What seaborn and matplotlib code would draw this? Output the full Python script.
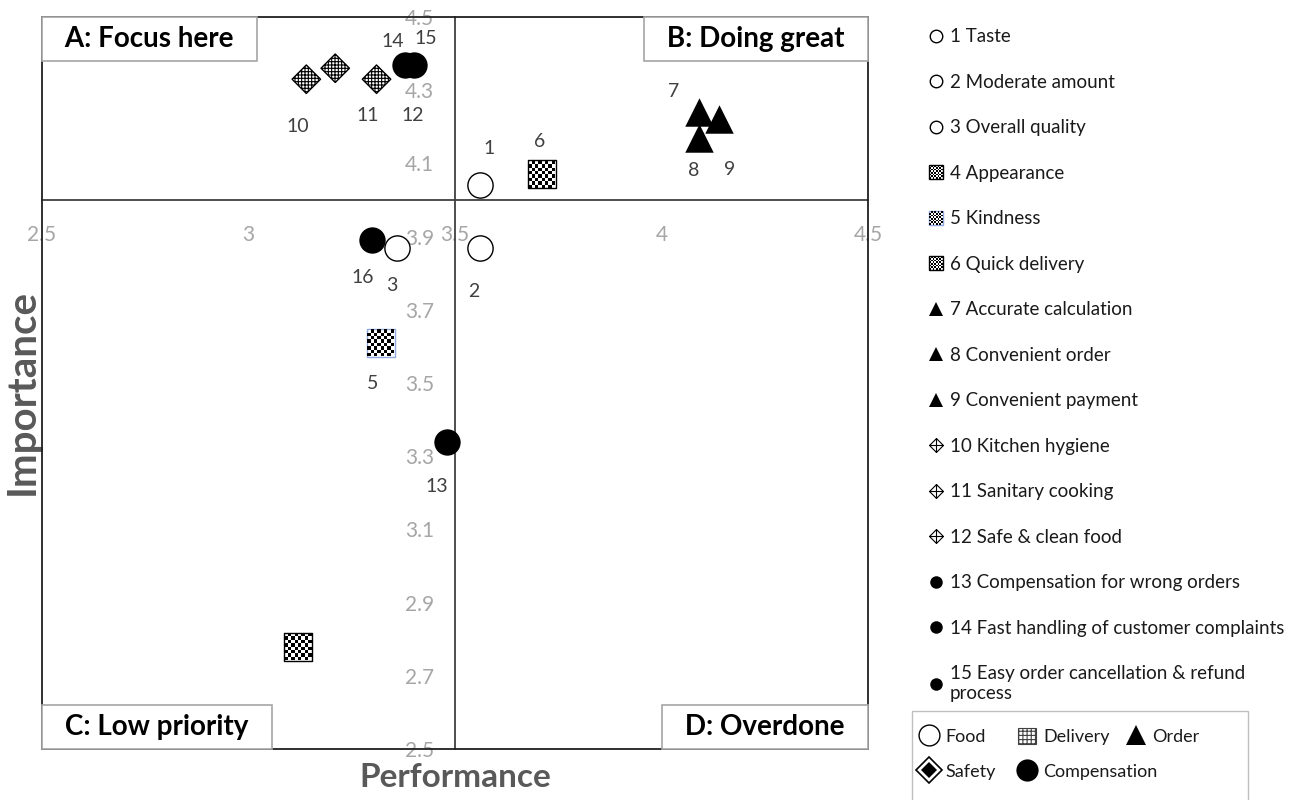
import numpy as np
import seaborn as sns
import matplotlib.pyplot as plt
from matplotlib.path import Path
from matplotlib.lines import Line2D
from matplotlib.patches import Rectangle, Patch
from matplotlib.offsetbox import AnchoredText
from matplotlib.legend_handler import HandlerTuple

# data
ids = list(range(1, 17))
performance = [3.56, 3.56, 3.36, 3.12, 3.32, 3.71, 4.09, 4.09, 4.14,
               3.14, 3.31, 3.21, 3.48, 3.38, 3.40, 3.30]
importance = [4.04, 3.87, 3.87, 2.78, 3.61, 4.07, 4.24, 4.17, 4.22,
              4.33, 4.33, 4.36, 3.34, 4.37, 4.37, 3.89]
group = (['Food'] * 3 + ['Delivery'] * 3 + ['Order'] * 3 +
         ['Safety'] * 3 + ['Compensation'] * 4)
point_labels = ['1', '2', '3', '', '5', '6', '7', '8', '9',
                '10', '11', '12', '13', '14', '15', '16']
item_names = ['Taste', 'Moderate amount', 'Overall quality', 'Appearance',
              'Kindness', 'Quick delivery', 'Accurate calculation',
              'Convenient order', 'Convenient payment', 'Kitchen hygiene',
              'Sanitary cooking', 'Safe & clean food',
              'Compensation for wrong orders',
              'Fast handling of customer complaints',
              'Easy order cancellation & refund\nprocess']
x_ticks = [2.5, 3, 3.5, 4, 4.5]
y_ticks = [2.5, 2.7, 2.9, 3.1, 3.3, 3.5, 3.7, 3.9, 4.1, 4.3, 4.5]
quadrants = ['A: Focus here', 'B: Doing great', 'C: Low priority', 'D: Overdone']

# label offsets in pixels (x right, y up)
label_offsets = [(9, 37), (-6, -44), (-5, -38), (0, 0), (-8, -41), (-2, 33),
                 (-25, 21), (-5, -33), (10, -50), (-9, -47), (-9, -36),
                 (77, -47), (-10, -45), (-13, 23), (12, 26), (-10, -37)]


def checker_path(n=8):
    verts, codes = [], []
    d = 2 / n
    for i in range(n):
        for j in range(n):
            if (i + j) % 2 == 0:
                x0, y0 = -1 + i * d, -1 + j * d
                verts += [(x0, y0), (x0 + d, y0), (x0 + d, y0 + d), (x0, y0 + d), (x0, y0)]
                codes += [Path.MOVETO, Path.LINETO, Path.LINETO, Path.LINETO, Path.CLOSEPOLY]
    return Path(verts, codes)


def cross_diamond():
    verts = [(0, 1), (1, 0), (0, -1), (-1, 0), (0, 1),
             (0, 1), (0, -1), (-1, 0), (1, 0)]
    codes = [Path.MOVETO, Path.LINETO, Path.LINETO, Path.LINETO, Path.CLOSEPOLY,
             Path.MOVETO, Path.LINETO, Path.MOVETO, Path.LINETO]
    return Path(verts, codes)


CHECK = checker_path(8)
CROSS_D = cross_diamond()

sns.set_style('white')
plt.rcParams['font.family'] = ['Lato', 'DejaVu Sans']
plt.rcParams['hatch.linewidth'] = 0.8

fig = plt.figure(figsize=(13.04, 8.0), dpi=100)
ax = fig.add_axes([42 / 1304, 1 - 749 / 800, 826 / 1304, 732 / 800])

x = np.array(performance)
y = np.array(importance)
g = np.array(group)

# crossing lines at (3.5, 4.0)
ax.spines['left'].set_position(('data', 3.5))
ax.spines['bottom'].set_position(('data', 4.0))
for s in ['left', 'bottom']:
    ax.spines[s].set_color('#404040')
    ax.spines[s].set_linewidth(1.3)
ax.spines['top'].set_visible(False)
ax.spines['right'].set_visible(False)
ax.add_patch(Rectangle((0, 0), 1, 1, transform=ax.transAxes, fill=False,
                       edgecolor='#202020', linewidth=1.3, zorder=5, clip_on=False))

# points
m = g == 'Food'
sns.scatterplot(x=x[m], y=y[m], marker='o', s=330, color='white',
                edgecolor='black', linewidth=1.0, ax=ax, zorder=6)
m = g == 'Delivery'
edge_cols = ['black', '#8fa8e0', 'black']
for xi, yi, ec in zip(x[m], y[m], edge_cols):
    sns.scatterplot(x=[xi], y=[yi], marker='s', s=380, color='white',
                    edgecolor=ec, linewidth=1.0, ax=ax, zorder=6)
    sns.scatterplot(x=[xi], y=[yi], marker=CHECK, s=380, color='black',
                    edgecolor='none', linewidth=0, ax=ax, zorder=7)
m = g == 'Order'
sns.scatterplot(x=x[m], y=y[m], marker='^', s=420, color='black',
                edgecolor='black', linewidth=0, ax=ax, zorder=6)
m = g == 'Safety'
sns.scatterplot(x=x[m], y=y[m], marker='D', s=210, color='white',
                edgecolor='black', linewidth=1.0, hatch='+++++', ax=ax, zorder=6)
m = g == 'Compensation'
sns.scatterplot(x=x[m], y=y[m], marker='o', s=360, color='black',
                edgecolor='black', linewidth=0, ax=ax, zorder=6)

for xi, yi, lab, off in zip(x, y, point_labels, label_offsets):
    if lab:
        ax.annotate(lab, (xi, yi), xytext=off, textcoords='offset pixels',
                    ha='center', va='center', fontsize=14, color='#404040', zorder=8)

ax.set_xlim(2.5, 4.5)
ax.set_ylim(2.5, 4.5)
ax.set_xticks(x_ticks)
ax.set_xticklabels([f'{t:g}' for t in x_ticks])
ax.set_yticks(y_ticks)
ax.set_yticklabels([f'{t:.1f}' for t in y_ticks])
ax.tick_params(axis='both', colors='#404040', labelcolor='#a6a6a6',
               labelsize=15, length=5, width=1.2, direction='out')
ax.tick_params(axis='x', pad=13)
ax.tick_params(axis='y', pad=10)

ax.set_xlabel('Performance', fontsize=24, fontweight='bold', color='#595959')
ax.xaxis.set_label_coords((455 - 42) / 826, -(763 - 749) / 732)
ax.set_ylabel('Importance', fontsize=29, fontweight='bold', color='#595959',
              rotation=90, va='center')
ax.yaxis.set_label_coords((22 - 42) / 826, 1 - (392 - 17) / 732)

for text, loc in zip(quadrants, ['upper left', 'upper right', 'lower left', 'lower right']):
    at = AnchoredText('\u2002' + text + '\u2002', loc=loc, frameon=True, pad=0.33,
                      borderpad=0, prop=dict(size=20, weight='bold', color='black'))
    at.patch.set_boxstyle('square', pad=0)
    at.patch.set_edgecolor('#a6a6a6')
    at.patch.set_linewidth(1.2)
    at.set_zorder(9)
    ax.add_artist(at)

overlay = {tuple: HandlerTuple(ndivide=1, pad=0)}

# item list legend
item_handles = []
for i, nm in enumerate(item_names):
    grp = group[i]
    if grp == 'Food':
        h = Line2D([], [], marker='o', ls='none', ms=9, mfc='white', mec='black', mew=1)
    elif grp == 'Delivery':
        ec = '#8fa8e0' if i == 4 else 'black'
        h = (Line2D([], [], marker='s', ls='none', ms=10, mfc='white', mec=ec, mew=1),
             Line2D([], [], marker=CHECK, ls='none', ms=10, mfc='black', mec='none', mew=0))
    elif grp == 'Order':
        h = Line2D([], [], marker='^', ls='none', ms=10, mfc='black', mec='black', mew=0)
    elif grp == 'Safety':
        h = Line2D([], [], marker=CROSS_D, ls='none', ms=10, mfc='none', mec='black', mew=0.8)
    else:
        h = Line2D([], [], marker='o', ls='none', ms=9, mfc='black', mec='black', mew=0)
    item_handles.append(h)
item_labels = [f'{i + 1} {nm}' for i, nm in enumerate(item_names)]
leg1 = fig.legend(item_handles, item_labels, loc='upper left',
                  bbox_to_anchor=(919 / 1304, 1 - 19 / 800), frameon=False,
                  fontsize=13.5, labelspacing=1.52, handlelength=0.8, handletextpad=0.35,
                  borderpad=0, labelcolor='#1a1a1a', handler_map=overlay)

# group legend
grp_handle = {
    'Food': Line2D([], [], marker='o', ls='none', ms=15, mfc='white', mec='black', mew=1),
    'Delivery': Patch(facecolor='white', edgecolor='#404040', hatch='++++', linewidth=0.8),
    'Order': Line2D([], [], marker='^', ls='none', ms=14, mfc='black', mec='black', mew=0),
    'Safety': (Line2D([], [], marker='D', ls='none', ms=13, mfc='white', mec='black', mew=1.2),
               Line2D([], [], marker='D', ls='none', ms=8, mfc='black', mec='black', mew=0)),
    'Compensation': Line2D([], [], marker='o', ls='none', ms=16, mfc='black', mec='black', mew=0),
}
order = ['Food', 'Safety', 'Delivery', 'Compensation']
common = dict(frameon=False, fontsize=13, labelspacing=0.95, handlelength=1.0,
              handleheight=1.0, handletextpad=0.4, columnspacing=1.25, borderpad=0,
              labelcolor='#1a1a1a', handler_map=overlay, loc='upper left')
fig.legend([grp_handle[k] for k in order], order, ncol=2,
           bbox_to_anchor=(911 / 1304, 1 - 719 / 800), **common)
fig.legend([grp_handle['Order']], ['Order'],
           bbox_to_anchor=(1118 / 1304, 1 - 719 / 800), **common)
fig.patches.append(Rectangle((912 / 1304, -0.02), 336 / 1304, (800 - 711) / 800 + 0.02,
                             transform=fig.transFigure, fill=False,
                             edgecolor='#bfbfbf', linewidth=1.0))

fig.savefig('out.png', dpi=100)
